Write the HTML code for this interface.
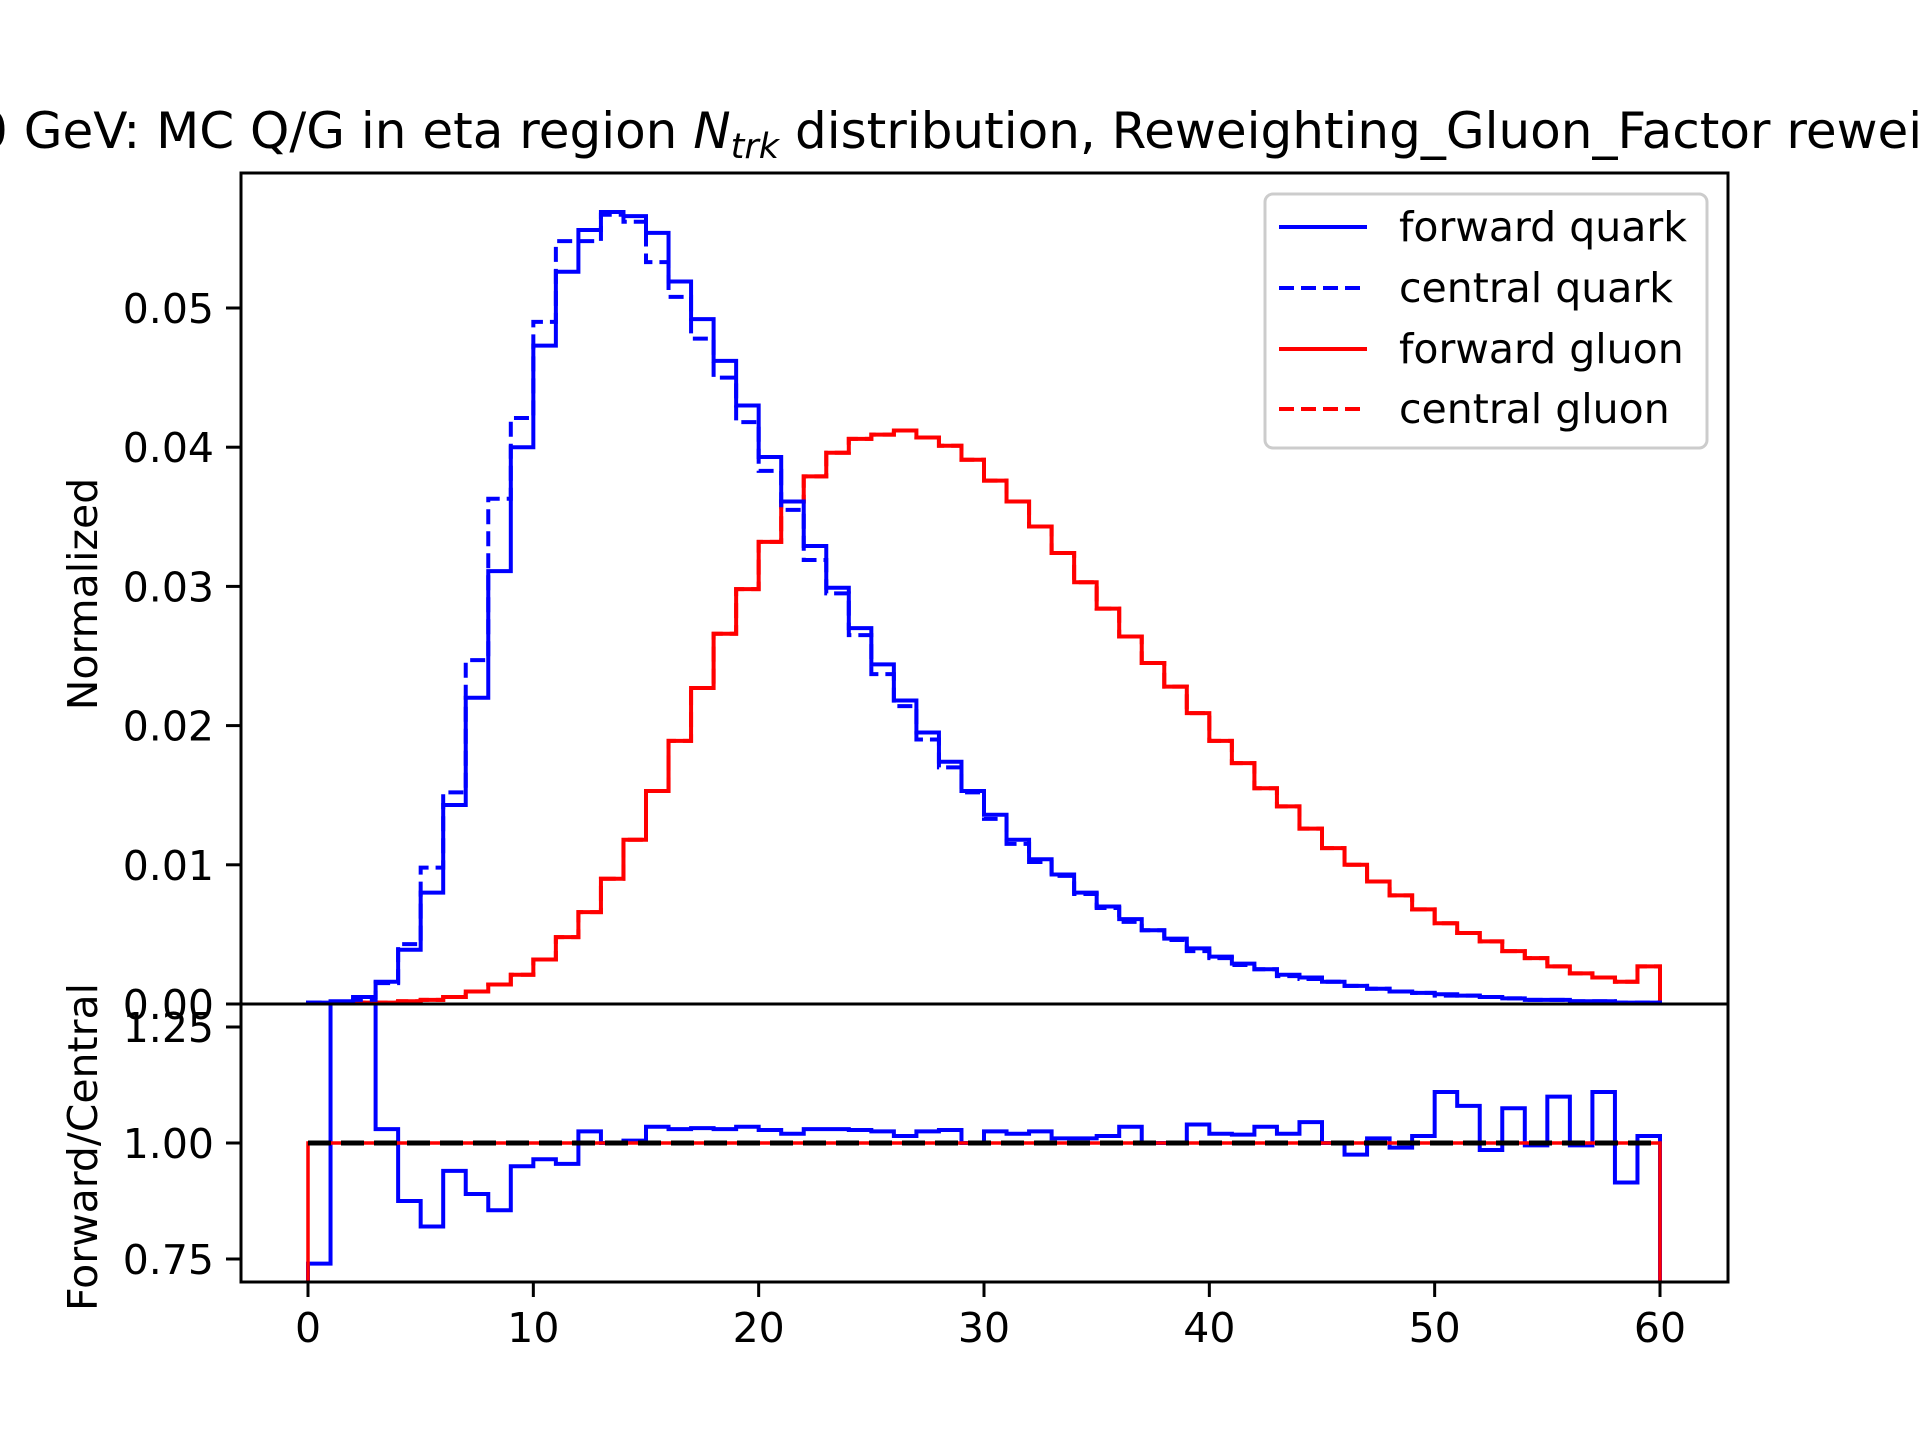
<!DOCTYPE html>
<html><head><meta charset="utf-8"><style>
html,body{margin:0;padding:0;background:#fff;}
svg{display:block;font-family:"DejaVu Sans","Liberation Sans",sans-serif;}
</style></head><body>
<svg id="chart" width="1920" height="1440" viewBox="0 0 1920 1440" xmlns="http://www.w3.org/2000/svg">
<defs>
<clipPath id="clipMain"><rect x="241" y="173" width="1487" height="831"/></clipPath>
<clipPath id="clipRatio"><rect x="241" y="1004" width="1487" height="278"/></clipPath>
</defs>
<text x="-24" y="148" font-size="50" fill="#000">0 GeV: MC Q/G in eta region <tspan font-style="italic">N</tspan><tspan font-style="italic" font-size="35" dy="10">trk</tspan><tspan dy="-10"> distribution, Reweighting_Gluon_Factor reweighted</tspan></text>
<g id="main" clip-path="url(#clipMain)"></g>
<g id="ratio" clip-path="url(#clipRatio)"></g>
<g id="axes"></g>
<text transform="translate(97,594) rotate(-90)" text-anchor="middle" font-size="41" fill="#000">Normalized</text>
<text transform="translate(97,1147) rotate(-90)" text-anchor="middle" font-size="41" fill="#000">Forward/Central</text>
<g>
<rect x="1265" y="194" width="442" height="254" rx="8" fill="#fff" fill-opacity="0.8" stroke="#ccc" stroke-width="3"/>
<g><line x1="1279" x2="1367" y1="227" y2="227" stroke="#0000ff" stroke-width="4"/><text x="1399" y="241" font-size="41">forward quark</text></g>
<g><line x1="1279" x2="1367" y1="288" y2="288" stroke="#0000ff" stroke-width="4" stroke-dasharray="15,7"/><text x="1399" y="302" font-size="41">central quark</text></g>
<g><line x1="1279" x2="1367" y1="349" y2="349" stroke="#ff0000" stroke-width="4"/><text x="1399" y="363" font-size="41">forward gluon</text></g>
<g><line x1="1279" x2="1367" y1="409" y2="409" stroke="#ff0000" stroke-width="4" stroke-dasharray="15,7"/><text x="1399" y="423" font-size="41">central gluon</text></g>
</g>
</svg>
<script>
const fwdQuark = [0.0001,0.0002,0.0005,0.0016,0.0039,0.0080,0.0143,0.0220,0.0311,0.0400,0.0473,0.0526,0.0556,0.0569,0.0566,0.0554,0.0519,0.0492,0.0462,0.0430,0.0393,0.0361,0.0329,0.0299,0.0270,0.0244,0.0218,0.0195,0.0174,0.0153,0.0136,0.0118,0.0104,0.0093,0.0080,0.0070,0.0061,0.0053,0.0047,0.0040,0.0034,0.0029,0.0025,0.0021,0.0019,0.0016,0.0013,0.0011,0.0009,0.0008,0.0007,0.0006,0.0005,0.0004,0.0003,0.0003,0.0002,0.0002,0.0001,0.0001];
const cenQuark = [0.0001,0.0001,0.0003,0.0015,0.0043,0.0098,0.0152,0.0247,0.0363,0.0421,0.0490,0.0548,0.0548,0.0567,0.0562,0.0533,0.0508,0.0478,0.0450,0.0418,0.0383,0.0355,0.0319,0.0295,0.0265,0.0237,0.0214,0.0190,0.0170,0.0152,0.0133,0.0115,0.0102,0.0092,0.0079,0.0069,0.0059,0.0053,0.0046,0.0038,0.0033,0.0028,0.0025,0.0020,0.0018,0.0016,0.0013,0.0011,0.0009,0.0008,0.0006,0.0006,0.0005,0.0004,0.0003,0.0003,0.0002,0.0002,0.0001,0.0001];
const fwdGluon = [0.0000,0.0000,0.0001,0.0001,0.0002,0.0003,0.0005,0.0009,0.0014,0.0021,0.0032,0.0048,0.0066,0.0090,0.0118,0.0153,0.0189,0.0227,0.0266,0.0298,0.0332,0.0361,0.0379,0.0396,0.0406,0.0409,0.0412,0.0407,0.0401,0.0391,0.0376,0.0361,0.0343,0.0324,0.0303,0.0284,0.0264,0.0245,0.0228,0.0209,0.0189,0.0173,0.0155,0.0142,0.0126,0.0112,0.0100,0.0088,0.0078,0.0068,0.0058,0.0051,0.0045,0.0038,0.0033,0.0027,0.0022,0.0019,0.0016,0.0027];
const cenGluon = [0.0000,0.0000,0.0001,0.0001,0.0002,0.0003,0.0005,0.0009,0.0014,0.0021,0.0032,0.0048,0.0066,0.0090,0.0118,0.0153,0.0189,0.0227,0.0266,0.0298,0.0332,0.0361,0.0379,0.0396,0.0406,0.0409,0.0412,0.0407,0.0401,0.0391,0.0376,0.0361,0.0343,0.0324,0.0303,0.0284,0.0264,0.0245,0.0228,0.0209,0.0189,0.0173,0.0155,0.0142,0.0126,0.0112,0.0100,0.0088,0.0078,0.0068,0.0058,0.0051,0.0045,0.0038,0.0033,0.0027,0.0022,0.0019,0.0016,0.0027];
const quarkRatio = [0.74,1.4,1.4,1.03,0.875,0.82,0.94,0.89,0.855,0.95,0.965,0.955,1.025,1.0,1.005,1.035,1.03,1.032,1.03,1.035,1.028,1.02,1.03,1.03,1.028,1.025,1.015,1.025,1.028,1.0,1.025,1.02,1.025,1.01,1.01,1.015,1.035,1.0,1.0,1.04,1.02,1.018,1.035,1.02,1.045,1.0,0.975,1.01,0.99,1.015,1.11,1.08,0.985,1.075,0.995,1.1,0.995,1.11,0.915,1.015];
const gluonRatio = [1,1,1,1,1,1,1,1,1,1,1,1,1,1,1,1,1,1,1,1,1,1,1,1,1,1,1,1,1,1,1,1,1,1,1,1,1,1,1,1,1,1,1,1,1,1,1,1,1,1,1,1,1,1,1,1,1,1,1,1];
const xTicks = [0,10,20,30,40,50,60];
const yTicks = [0,0.01,0.02,0.03,0.04,0.05];
const yTickLabels = ["0.00","0.01","0.02","0.03","0.04","0.05"];
const rTicks = [0.75,1.0,1.25];
const rTickLabels = ["0.75","1.00","1.25"];

const NS="http://www.w3.org/2000/svg";
const X = v => 308 + v*(1660-308)/60;
const Y = v => 1004 - v*13920;
const R = v => 1143 - (v-1)*464;

function stepPath(vals, fy, base){
  let d = `M${X(0)},${base}`;
  vals.forEach((v,i)=>{ d += ` L${X(i)},${fy(v)} L${X(i+1)},${fy(v)}`; });
  d += ` L${X(vals.length)},${base}`;
  return d;
}
function mk(tag, attrs, parent){
  const e=document.createElementNS(NS,tag);
  for(const k in attrs) e.setAttribute(k,attrs[k]);
  parent.appendChild(e); return e;
}
const main=document.getElementById('main');
const ratio=document.getElementById('ratio');
const axes=document.getElementById('axes');

let p;
p=mk('path',{d:stepPath(fwdGluon,Y,Y(0)),fill:'none',stroke:'#ff0000','stroke-width':4},main);


p=mk('path',{d:stepPath(cenGluon,Y,Y(0)),fill:'none',stroke:'#ff0000','stroke-width':4,'stroke-dasharray':'15,7'},main);


p=mk('path',{d:stepPath(fwdQuark,Y,Y(0)),fill:'none',stroke:'#0000ff','stroke-width':4},main);


p=mk('path',{d:stepPath(cenQuark,Y,Y(0)),fill:'none',stroke:'#0000ff','stroke-width':4,'stroke-dasharray':'15,7'},main);



p=mk('path',{d:stepPath(quarkRatio,R,1290),fill:'none',stroke:'#0000ff','stroke-width':4},ratio);


p=mk('path',{d:stepPath(gluonRatio,R,1290),fill:'none',stroke:'#ff0000','stroke-width':3.5},ratio);


p=mk('line',{x1:X(0),x2:X(60),y1:R(1),y2:R(1),stroke:'#000','stroke-width':5,'stroke-dasharray':'23,10'},ratio);



p=mk('rect',{x:241,y:173,width:1487,height:831,fill:'none',stroke:'#000','stroke-width':3},axes);


p=mk('rect',{x:241,y:1004,width:1487,height:278,fill:'none',stroke:'#000','stroke-width':3},axes);



yTicks.forEach((v,i)=>{
  const t=mk('line',{x1:226,x2:241,y1:Y(v),y2:Y(v),stroke:'#000','stroke-width':3},axes);
  
  
  const l=mk('text',{x:214,y:Y(v)+15,'text-anchor':'end','font-size':41},axes);
  l.textContent=yTickLabels[i];
  
  
});
rTicks.forEach((v,i)=>{
  const t=mk('line',{x1:226,x2:241,y1:R(v),y2:R(v),stroke:'#000','stroke-width':3},axes);
  
  
  const l=mk('text',{x:214,y:R(v)+15,'text-anchor':'end','font-size':41},axes);
  l.textContent=rTickLabels[i];
  
  
});
xTicks.forEach(v=>{
  const t=mk('line',{x1:X(v),x2:X(v),y1:1282,y2:1297,stroke:'#000','stroke-width':3},axes);
  
  
  const l=mk('text',{x:X(v),y:1342,'text-anchor':'middle','font-size':41},axes);
  l.textContent=String(v);
  
  
});
</script>
</body></html>
